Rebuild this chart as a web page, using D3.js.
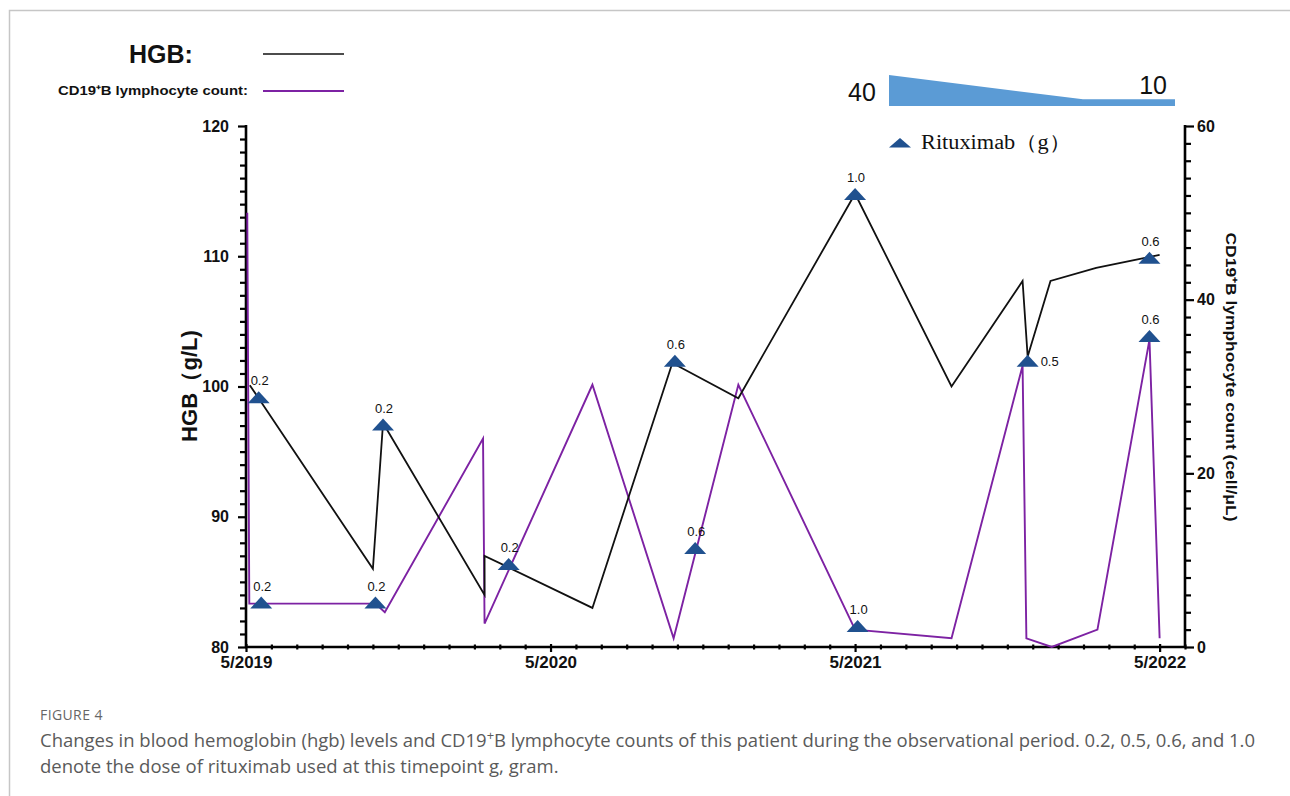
<!DOCTYPE html>
<html><head><meta charset="utf-8">
<script src="https://cdn.jsdelivr.net/npm/d3@7"></script>
<style>body{margin:0;background:#fff}svg{display:block}</style>
</head><body><svg id="c" width="1290" height="796"></svg>
<script>
// ---- data (x in months since 5/2019) ----
const hgbMonths = [0.15, 5.0, 5.4, 9.4, 9.4, 13.65, 16.8, 19.4, 24.0, 27.8, 30.6, 30.8, 31.7, 33.5, 36.0];
const hgbValues = [100.1, 86.0, 97.2, 84.0, 87.0, 83.0, 101.8, 99.1, 114.8, 100.0, 108.1, 102.3, 108.1, 109.1, 110.1];

const cd19Months = [0.05, 0.13, 5.1, 5.47, 9.34, 9.4, 13.65, 16.85, 19.4, 24.0, 27.8, 30.6, 30.75, 31.75, 33.55, 35.6, 36.0];
const cd19Values = [50, 5, 5, 4, 24, 2.7, 30.2, 1.0, 30.2, 2.0, 1.0, 32.4, 1.0, 0, 2.0, 35.4, 1.0];

const ritMonths = [0.5, 0.6, 5.4, 5.1, 10.35, 16.9, 17.7, 24.0, 24.1, 30.8, 35.6, 35.6];
const ritAxis   = ['hgb','cd19','hgb','cd19','hgb','hgb','cd19','hgb','cd19','hgb','hgb','cd19'];
const ritValues = [99.1, 5.0, 97.0, 5.0, 86.3, 101.9, 11.3, 114.7, 2.3, 101.9, 109.8, 35.7];
const ritDoses  = ['0.2','0.2','0.2','0.2','0.2','0.6','0.6','1.0','1.0','0.5','0.6','0.6'];
const ritLabelSide = ['top','top','top','top','top','top','top','top','top','right','top','top'];

const xTickMonths = [0, 12, 24, 36];
const xTickLabels = ['5/2019', '5/2020', '5/2021', '5/2022'];
const taperLabels = ['40', '10'];

// ---- layout ----
const svg = d3.select('#c');
const x = d3.scaleLinear().domain([0, 37]).range([246, 1185]);
const yL = d3.scaleLinear().domain([80, 120]).range([647, 126]);
const yR = d3.scaleLinear().domain([0, 60]).range([647, 126]);
const PURPLE = '#7d22a3', BLUE = '#20518f';
const AX = 'Arial, "Liberation Sans", Helvetica, sans-serif';

// frame
svg.append('path').attr('d', 'M9.5,796 L9.5,10.5 L1290,10.5').attr('fill', 'none')
  .attr('stroke', '#c6c6c6').attr('stroke-width', 1.5);

// left axis
const axL = svg.append('g').attr('transform', 'translate(246,0)')
  .call(d3.axisLeft(yL).tickValues(d3.range(80, 121, 1)).tickSize(6)
    .tickFormat(d => d % 10 === 0 ? d : ''));
axL.select('.domain').remove();
axL.selectAll('.tick line').attr('x2', d => d % 10 === 0 ? -8 : -6).attr('stroke', '#000').attr('stroke-width', 2.2);
axL.selectAll('.tick text').attr('x', -17).attr('font-family', AX).attr('font-weight', 'bold')
  .attr('font-size', 16).attr('fill', '#111');

// right axis
const axR = svg.append('g').attr('transform', 'translate(1185,0)')
  .call(d3.axisRight(yR).tickValues(d3.range(0, 61, 2)).tickSize(6)
    .tickFormat(d => d % 20 === 0 ? d : ''));
axR.select('.domain').remove();
axR.selectAll('.tick line').attr('x2', d => d % 20 === 0 ? 9 : 6).attr('stroke', '#000').attr('stroke-width', 2.2);
axR.selectAll('.tick text').attr('x', 12).attr('font-family', AX).attr('font-weight', 'bold')
  .attr('font-size', 16).attr('fill', '#111');

// bottom axis
const axB = svg.append('g').attr('transform', 'translate(0,647)')
  .call(d3.axisBottom(x).tickValues(d3.range(0, 38, 1)).tickSize(3)
    .tickFormat(d => { const i = xTickMonths.indexOf(d); return i >= 0 ? xTickLabels[i] : ''; }));
axB.select('.domain').remove();
axB.selectAll('.tick line').attr('y1', d => xTickMonths.includes(d) ? -3 : -2.5)
  .attr('y2', d => xTickMonths.includes(d) ? 5 : 2.5).attr('stroke', '#000').attr('stroke-width', 2.2);
axB.selectAll('.tick text').attr('y', 9).attr('font-family', AX).attr('font-weight', 'bold')
  .attr('font-size', 17).attr('fill', '#111');

// axis lines
svg.append('line').attr('x1', 246).attr('x2', 246).attr('y1', 125).attr('y2', 648).attr('stroke', '#000').attr('stroke-width', 2.6);
svg.append('line').attr('x1', 1185).attr('x2', 1185).attr('y1', 125).attr('y2', 648).attr('stroke', '#000').attr('stroke-width', 2.6);
svg.append('line').attr('x1', 245).attr('x2', 1186).attr('y1', 647).attr('y2', 647).attr('stroke', '#000').attr('stroke-width', 2.6);

// axis titles
svg.append('text').attr('transform', 'translate(197,386) rotate(-90)').attr('text-anchor', 'middle')
  .attr('font-family', AX).attr('font-weight', 'bold').attr('font-size', 22).attr('fill', '#111')
  .attr('textLength', 112).attr('lengthAdjust', 'spacingAndGlyphs').text('HGB（g/L)');
svg.append('text').attr('transform', 'translate(1226,377) rotate(90)').attr('text-anchor', 'middle')
  .attr('font-family', AX).attr('font-weight', 'bold').attr('font-size', 15).attr('fill', '#111')
  .attr('textLength', 289).attr('lengthAdjust', 'spacingAndGlyphs').text('CD19⁺B lymphocyte count (cell/μL)');

// lines
const lineL = d3.line().x(d => x(d[0])).y(d => yL(d[1]));
const lineR = d3.line().x(d => x(d[0])).y(d => yR(d[1]));
svg.append('path').attr('d', lineR(d3.zip(cd19Months, cd19Values))).attr('fill', 'none')
  .attr('stroke', PURPLE).attr('stroke-width', 1.9).attr('stroke-linejoin', 'miter');
svg.append('path').attr('d', lineL(d3.zip(hgbMonths, hgbValues))).attr('fill', 'none')
  .attr('stroke', '#111').attr('stroke-width', 1.8).attr('stroke-linejoin', 'miter');

// rituximab markers
const rit = ritMonths.map((m, i) => ({
  px: x(m), py: ritAxis[i] === 'hgb' ? yL(ritValues[i]) : yR(ritValues[i]),
  dose: ritDoses[i], side: ritLabelSide[i]
}));
const g = svg.append('g');
g.selectAll('path.tri').data(rit).join('path').attr('class', 'tri')
  .attr('d', 'M0,-7 L11,5 L-11,5 Z').attr('transform', d => `translate(${d.px},${d.py})`)
  .attr('fill', BLUE);
g.selectAll('text.dose').data(rit).join('text').attr('class', 'dose')
  .attr('x', d => d.side === 'right' ? d.px + 13 : d.px + 1)
  .attr('y', d => d.side === 'right' ? d.py + 4.5 : d.py - 13)
  .attr('text-anchor', d => d.side === 'right' ? 'start' : 'middle')
  .attr('font-family', AX).attr('font-size', 13).attr('fill', '#111').text(d => d.dose);

// legend top-left
svg.append('text').attr('x', 129).attr('y', 63).attr('font-family', AX).attr('font-weight', 'bold')
  .attr('font-size', 25).attr('fill', '#111').text('HGB:');
svg.append('line').attr('x1', 263).attr('x2', 344).attr('y1', 54).attr('y2', 54).attr('stroke', '#111').attr('stroke-width', 1.6);
svg.append('text').attr('x', 58).attr('y', 95).attr('font-family', AX).attr('font-weight', 'bold')
  .attr('font-size', 13).attr('fill', '#111').attr('textLength', 190).attr('lengthAdjust', 'spacingAndGlyphs')
  .text('CD19⁺B lymphocyte count:');
svg.append('line').attr('x1', 263).attr('x2', 344).attr('y1', 91).attr('y2', 91).attr('stroke', PURPLE).attr('stroke-width', 1.8);

// taper wedge
svg.append('path').attr('d', 'M889,75 L1083,99.3 L1175,99.3 L1175,106 L889,106 Z').attr('fill', '#5b9bd5');
svg.append('text').attr('x', 848).attr('y', 101).attr('font-family', AX).attr('font-size', 25).attr('fill', '#111').text(taperLabels[0]);
svg.append('text').attr('x', 1167).attr('y', 94).attr('text-anchor', 'end').attr('font-family', AX).attr('font-size', 25).attr('fill', '#111').text(taperLabels[1]);

// rituximab legend
svg.append('path').attr('d', 'M0,-5 L11,4.5 L-11,4.5 Z').attr('transform', 'translate(900,143)').attr('fill', BLUE);
svg.append('text').attr('x', 921).attr('y', 149).attr('font-family', '"Liberation Serif", "Times New Roman", serif')
  .attr('font-size', 20).attr('fill', '#111').attr('textLength', 150).attr('lengthAdjust', 'spacingAndGlyphs')
  .text('Rituximab（g）');

// caption
const CAP = '"Open Sans", "Noto Sans", sans-serif';
svg.append('text').attr('x', 40).attr('y', 720).attr('font-family', CAP).attr('font-size', 14).attr('fill', '#666')
  .attr('letter-spacing', 0.4).text('FIGURE 4');
const c1 = svg.append('text').attr('x', 40).attr('y', 747).attr('font-family', CAP).attr('font-size', 18.5).attr('fill', '#5a5a5a')
  .attr('textLength', 1215).attr('lengthAdjust', 'spacingAndGlyphs');
c1.append('tspan').text('Changes in blood hemoglobin (hgb) levels and CD19');
c1.append('tspan').attr('font-size', 13).attr('dy', -7).text('+');
c1.append('tspan').attr('dy', 7).text('B lymphocyte counts of this patient during the observational period. 0.2, 0.5, 0.6, and 1.0');
svg.append('text').attr('x', 40).attr('y', 773).attr('font-family', CAP).attr('font-size', 18.5).attr('fill', '#5a5a5a')
  .text('denote the dose of rituximab used at this timepoint g, gram.');
</script></body></html>
